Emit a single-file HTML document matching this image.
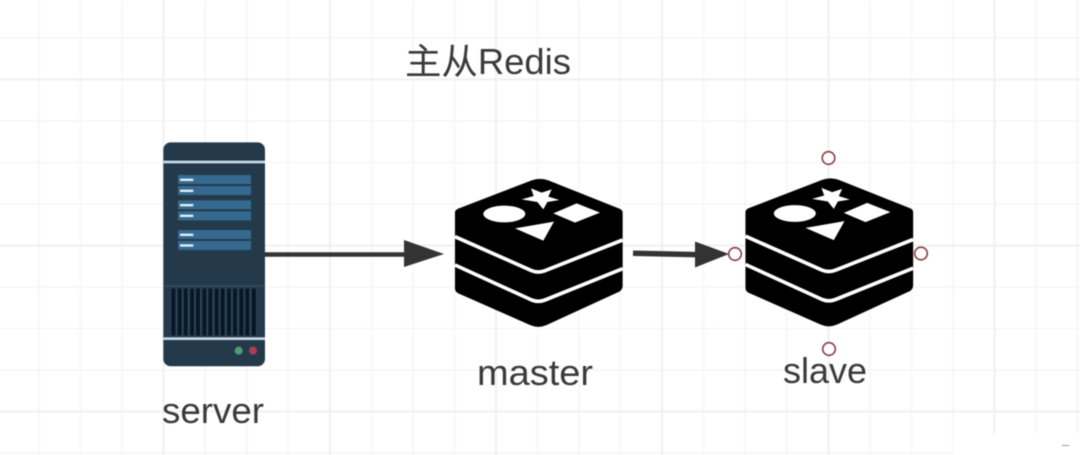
<!DOCTYPE html>
<html><head><meta charset="utf-8"><style>
html,body{margin:0;padding:0;background:#fff;width:1080px;height:455px;overflow:hidden}
svg{display:block;filter:blur(0.45px)}
text{font-family:"Liberation Sans","Noto Sans CJK SC",sans-serif;font-size:36px;fill:#3a3a3a}
</style></head><body>
<svg width="1080" height="455" viewBox="0 0 1080 455" xmlns="http://www.w3.org/2000/svg">
<defs>
<g id="redis">
<path d="M75 128Q75 120 85 116L305 31Q330 22 355 31L568 116Q578 120 578 128V348Q578 358 568 365L350 465Q325 476 300 465L85 370Q75 365 75 355Z" fill="#000"/>
<path d="M75 200L305 302Q325 310 345 302L578 210M75 285L305 390Q325 398 345 390L578 296" fill="none" stroke="#fff" stroke-width="11"/>
<ellipse cx="223" cy="132" rx="63" ry="25" fill="#fff"/>
<path d="M303 55L335 68L365 58L355 80L388 90L352 96L340 118L322 96L275 88L311 78Z" fill="#fff"/>
<path d="M370 130L440 100L510 128L435 158Z" fill="#fff"/>
<path d="M255 175L372 155L340 212Z" fill="#fff"/>
</g>
</defs>
<rect width="1080" height="455" fill="#fff"/>
<g stroke="#f6f6f6" stroke-width="1.6" fill="none">
<path d="M39 0V455M80.5 0V455M122 0V455M205 0V455M246.7 0V455M288 0V455M371.5 0V455M413 0V455M454.5 0V455M537.5 0V455M579 0V455M620.5 0V455M703.5 0V455M745 0V455M786.7 0V455M870 0V455M911.5 0V455M953 0V455M1036 0V455M1077.5 0V455"/>
<path d="M0 38H1080M0 121H1080M0 162.5H1080M0 204H1080M0 287H1080M0 328.5H1080M0 370H1080M0 453H1080"/>
</g>
<g stroke="#f1f1f1" stroke-width="2.2" fill="none">
<path d="M163.5 0V455M330 0V455M496 0V455M662 0V455M828.5 0V455M994.5 0V455"/>
<path d="M0 79.5H1080M0 245.5H1080M0 411.5H1080"/>
</g>
<path d="M953 438H994V433H1080V455H953Z" fill="#fff"/>
<rect x="1062" y="445" width="7" height="1" fill="#999"/>

<!-- server -->
<g transform="translate(140,130) scale(0.3333)">
<rect x="70" y="37" width="305" height="672" rx="22" fill="#243a4a"/>
<rect x="70" y="92" width="305" height="8" fill="#c9dbe8"/>
<rect x="70" y="622" width="305" height="8" fill="#c9dbe8"/>
<rect x="70" y="467" width="305" height="2" fill="#3d6480"/>
<g fill="#356a90">
<rect x="114" y="135" width="219" height="27"/><rect x="114" y="168" width="219" height="27"/>
<rect x="114" y="211" width="219" height="27"/><rect x="114" y="244" width="219" height="27"/>
<rect x="114" y="300" width="219" height="27"/><rect x="114" y="333" width="219" height="27"/>
</g>
<g fill="#e4f0f8">
<rect x="120" y="146" width="40" height="7"/><rect x="120" y="179" width="40" height="7"/>
<rect x="120" y="222" width="40" height="7"/><rect x="120" y="254" width="40" height="7"/>
<rect x="120" y="311" width="40" height="7"/><rect x="120" y="343" width="40" height="7"/>
</g>
<rect x="92" y="476" width="258" height="140" fill="#2a4558"/>
<g fill="#081626">
<rect x="94" y="476" width="12" height="140"/><rect x="113" y="476" width="12" height="140"/><rect x="131" y="476" width="12" height="140"/><rect x="150" y="476" width="12" height="140"/><rect x="168" y="476" width="12" height="140"/><rect x="187" y="476" width="12" height="140"/><rect x="205" y="476" width="12" height="140"/><rect x="224" y="476" width="12" height="140"/><rect x="242" y="476" width="12" height="140"/><rect x="261" y="476" width="12" height="140"/><rect x="279" y="476" width="12" height="140"/><rect x="298" y="476" width="12" height="140"/><rect x="316" y="476" width="12" height="140"/><rect x="335" y="476" width="13" height="140"/>
</g>
<circle cx="296" cy="662" r="12" fill="#4f9c78"/>
<circle cx="339" cy="662" r="12" fill="#a83f55"/>
</g>

<use href="#redis" transform="translate(430,170) scale(0.3333)"/>
<use href="#redis" transform="translate(720.5,169.5) scale(0.3333)"/>

<!-- arrows -->
<path d="M265 254.5H406" stroke="#333" stroke-width="4.5" fill="none"/>
<path d="M404 240L444 254L404 267Z" fill="#333"/>
<path d="M633 253.3L697 254.6" stroke="#333" stroke-width="5.5" fill="none"/>
<path d="M695 241.5L729 254L695 267.5Z" fill="#333"/>

<!-- connection points -->
<g fill="#fff" fill-opacity="0.9" stroke="#8a3d42" stroke-width="1.6">
<circle cx="828.5" cy="158" r="6.3"/>
<circle cx="735" cy="254" r="6.3"/>
<circle cx="921" cy="253.5" r="6.3"/>
<circle cx="829" cy="349" r="6.3"/>
</g>

<!-- labels -->
<text x="405" y="74" textLength="166" lengthAdjust="spacingAndGlyphs">主从Redis</text>
<text x="162" y="423" textLength="102" lengthAdjust="spacingAndGlyphs">server</text>
<text x="477" y="385" textLength="116" lengthAdjust="spacingAndGlyphs">master</text>
<text x="783" y="383" textLength="84" lengthAdjust="spacingAndGlyphs">slave</text>
</svg>
</body></html>
